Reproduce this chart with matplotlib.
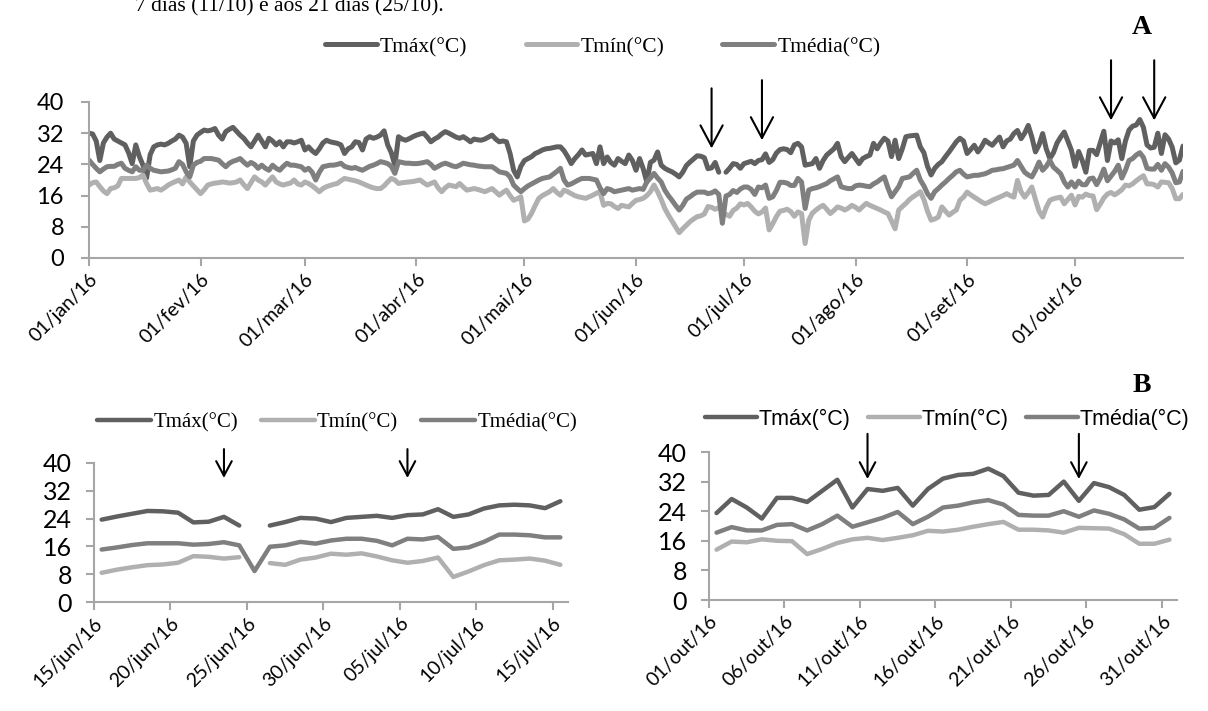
import numpy as np
import matplotlib.pyplot as plt

plt.rcParams['font.family'] = ['Lato', 'DejaVu Sans']

# ---- data ----
nan = np.nan

# daily values 01/jan - 14/jun/16
tmax_a = [32, 31.8, 30, 25, 29.5, 31, 32, 30.5, 30, 29.5, 29, 27, 24.2, 29, 26, 23.8, 20.5, 26.5, 28.5, 29, 29.2, 29, 29.4, 30, 30.5, 31.5, 31, 29.4, 23.4, 30, 31.5,  # jan
          32.2, 32.8, 32.6, 32.8, 33.2, 31.5, 30.5, 32.4, 33, 33.5, 32.5, 31.5, 30.7, 29.5, 28.5, 30, 31.5, 30, 28.5, 30.7, 30, 29, 29.8, 28.5, 29.8, 29.8, 29.5, 29.8, 30.2,  # fev
          27.7, 28.5, 27.5, 26.8, 28, 29.5, 30.2, 29.8, 29.6, 29.4, 29, 26.8, 28, 28.5, 29.8, 29.6, 27.7, 30.5, 31.1, 30.7, 31, 31.5, 32.6, 29, 27, 23.8, 31.1, 30.5, 30.2, 30.6, 31.1,  # mar
          31.5, 31.8, 32, 31, 29.8, 30.5, 31, 31.8, 32.4, 32, 31.5, 31, 30.7, 31.1, 30.5, 29.8, 30.5, 30.3, 30.2, 30.5, 31, 31.5, 30.5, 29.8, 30, 29.8, 26.8, 22.5, 20.8, 23.5,  # abr
          25, 25.5, 26, 26.8, 27.2, 27.7, 28, 28.1, 28.3, 28.5, 28.5, 27.5, 26, 24.2, 25.5, 26.5, 27.7, 26.4, 26.6, 26.8, 24.2, 28.5, 24.2, 25.9, 24.5, 23.8, 25.5, 24.8, 24.2, 26.4, 25,  # mai
          22.5, 25.5, 22.9, 19.5, 24.5, 25.1, 27.2, 23.8, 23, 22.5, 22.1, 21.5, 20.8, 22]  # jun 1-14
tmin_a = [18.7, 19.3, 19.5, 18.3, 17.2, 16.5, 17.8, 18, 18.5, 20.4, 20.4, 20.4, 20.4, 20.4, 20.6, 21.3, 19.1, 17.4, 17.6, 17.8, 17.4, 18, 18.7, 19.2, 19.6, 20, 19, 20.8, 19.5, 18.5, 17.5,
          16.5, 17.5, 18.7, 19, 19.2, 19.3, 19.5, 19.4, 19.2, 19.3, 19.5, 20, 18.8, 17.8, 19.3, 20.8, 20, 19.5, 18.7, 19.8, 20.8, 19.5, 19, 18.7, 19, 19.2, 20, 19, 18.7,
          19.5, 19.1, 18.5, 17.8, 17, 17.8, 18.3, 18.6, 18.9, 19.1, 19.8, 20.4, 20.2, 20, 19.8, 19.5, 19.1, 18.7, 18.3, 18, 17.8, 17.8, 18.5, 19.5, 20.4, 20, 19.1, 19.3, 19.4, 19.5, 19.6,
          19.8, 20, 19.3, 18.7, 19.1, 19.5, 18, 17, 18, 18.7, 18.5, 18.3, 19.1, 18.2, 17.4, 17.6, 17.8, 17.6, 17.3, 17, 17.4, 17.8, 17, 16.1, 16.8, 17.4, 16, 14.8, 15.2, 15.7,
          9.5, 10, 11.5, 13.5, 15.3, 16, 16.5, 17, 17.8, 16.8, 16.1, 17.4, 17, 16.5, 16, 15.7, 15.5, 15.3, 15.7, 16.1, 16.6, 17, 13.5, 14, 13.9, 13.2, 12.7, 13.5, 13.3, 13.1, 14,
          14.8, 15, 15.3, 16, 17, 18.7, 17, 15, 12.7, 11, 9.5, 8, 6.5, 7.5]
tmed_a = [25.1, 24, 23, 22.1, 22.8, 23.4, 23.5, 23.5, 24, 24.3, 23, 22.5, 22.1, 23.4, 22.5, 22.5, 23.8, 23, 22.5, 22.3, 22.1, 22.2, 22.3, 22.6, 23, 24.7, 24, 22.1, 20.8, 23.8, 24.5,
          24.8, 25.5, 25.5, 25.5, 25.3, 25.1, 24.2, 23.4, 24.3, 24.8, 25.1, 25.5, 24.6, 23.8, 24.5, 24, 23, 23.8, 23, 22.5, 23.8, 23, 22.5, 23.5, 24.3, 23.8, 23.8, 23.6, 23.4,
          22.5, 23, 22, 20, 22, 23.4, 23.6, 23.8, 23.8, 24, 24.3, 23.5, 23.2, 23, 23.2, 22.8, 22.5, 23, 23.5, 23.8, 24.2, 24.7, 24.5, 24.2, 23.5, 21.7, 24.7, 24.5, 24.3, 24.3, 24.2,
          24.2, 24.3, 24.5, 24.7, 24, 23, 23.5, 24, 24.3, 24, 23.6, 23.4, 23.8, 24.3, 24.1, 23.9, 23.8, 23.6, 23.5, 23.4, 23.4, 23.4, 22.8, 22.1, 21.9, 21.7, 20.8, 18.7, 17.8, 17,
          17.8, 18.5, 19, 19.5, 20, 20.4, 20.6, 20.8, 21.5, 22.2, 23, 20, 18.7, 19, 19.5, 20, 20.4, 20.4, 20.4, 20.2, 20, 18, 16.5, 17.8, 17.5, 17, 17.2, 17.4, 17.6, 17.8, 17.4,
          17.6, 17.8, 17.6, 19.5, 20.5, 21.7, 20.5, 19.5, 17.4, 16, 14.8, 13.5, 12.3, 13.5]

# 15/jun - 15/jul/16 (panel B left)
jj_labels = ['15/jun/16', '20/jun/16', '25/jun/16', '30/jun/16', '05/jul/16', '10/jul/16', '15/jul/16']
jj_tmax = [23.7, 24.6, 25.4, 26.2, 26.1, 25.7, 22.9, 23.1, 24.5, 22.0, nan, 22.0, 23.0, 24.2, 24.0, 23.0,
           24.2, 24.5, 24.8, 24.2, 25.0, 25.2, 26.7, 24.5, 25.2, 26.9, 27.8, 28.0, 27.8, 27.0, 29.0]
jj_tmin = [8.4, 9.3, 10.0, 10.6, 10.8, 11.3, 13.2, 13.0, 12.5, 12.9, nan, 11.2, 10.7, 12.2, 12.8, 13.9,
           13.6, 14.0, 13.1, 12.0, 11.3, 11.8, 12.8, 7.2, 8.8, 10.6, 12.0, 12.2, 12.5, 11.9, 10.7]
jj_tmed = [15.1, 15.7, 16.4, 16.9, 16.9, 16.9, 16.5, 16.7, 17.2, 16.3, 8.9, 15.9, 16.3, 17.3, 16.8, 17.7,
           18.2, 18.2, 17.6, 16.3, 18.2, 18.0, 18.7, 15.3, 15.7, 17.3, 19.4, 19.4, 19.2, 18.6, 18.6]

# 16/jul - 30/set/16
tmax_b = [29.4, 28.5, 23.8, 24, 24.2, 25.5, 23, 25, 26.4, 27.2, 28, 29.4, 26, 24.7, 25.8, 26.8,  # jul
          25.5, 24.2, 25.5, 26, 26.4, 29.4, 28, 29.5, 30.7, 30, 26, 30.2, 25.5, 28, 31.1, 31.3, 31.4, 31.5, 28.5, 27, 23.5, 21.3, 23, 24, 24.7, 26, 27.2, 28.5, 29.8, 30.7, 30,  # ago
          26.8, 27.8, 28.9, 27.2, 28.5, 30.2, 29.5, 28.9, 30, 31, 28.5, 30, 30.5, 31.9, 32.7, 30.6, 32, 34, 31, 27.2, 29, 31.9, 28, 25.5, 27, 29.5, 31, 32.3, 30, 27.6]  # set
tmin_b = [11.8, 11.4, 3.7, 9.7, 11.5, 12.3, 13, 13.5, 12.5, 11.4, 12.2, 13.1, 12.8, 12.3, 12.8, 13.5,
          13, 12.3, 13.2, 14, 13.5, 13.1, 12.7, 12.3, 11.8, 11.4, 9.5, 7.5, 12.3, 13.2, 14, 15, 15.7, 16.3, 17, 15, 12, 9.7, 10, 10.5, 13.1, 12, 11, 11.7, 12.3, 14.8, 15.6,
          16.9, 16.2, 15.6, 15, 14.4, 13.9, 14.3, 14.8, 15.2, 15.6, 16, 16.5, 16, 15.6, 19.9, 17, 15.6, 16.8, 18.2, 15, 12, 10.5, 13, 14.8, 15.2, 15.4, 15.6, 13.9, 15, 16.1]
tmed_b = [20.4, 19.5, 12.7, 17.4, 17.8, 18, 18.3, 18.7, 19.1, 19.8, 20.3, 20.8, 18.3, 18, 17.8, 17.8,
          18.5, 18.7, 18.6, 18.4, 18.3, 19, 19.5, 20.2, 20.8, 18, 15.7, 17, 18.3, 20.4, 20.6, 20.8, 21.7, 22.5, 20, 18.5, 16.5, 15.3, 17, 17.8, 18.7, 19.5, 20.4, 21.2, 22.1, 22.5, 21.5,
          20.8, 21, 21.2, 21.2, 21.4, 21.6, 22, 22.5, 22.6, 22.8, 22.9, 23.2, 23.5, 23.8, 25, 23.5, 22, 21.3, 20.8, 22.5, 24.6, 22.5, 23.5, 25, 23.3, 22.5, 21.6, 19.5, 18.2, 19.5]

# 01/out - 31/out/16 (panel B right)
out_labels = ['01/out/16', '06/out/16', '11/out/16', '16/out/16', '21/out/16', '26/out/16', '31/out/16']
out_tmax = [23.5, 27.3, 25.0, 22.0, 27.6, 27.6, 26.5, 29.5, 32.5, 25.0, 30.0, 29.5, 30.3, 25.5, 30.0, 32.8,
            33.8, 34.1, 35.5, 33.5, 29.0, 28.2, 28.4, 32.0, 26.8, 31.6, 30.5, 28.4, 24.4, 25.1, 28.7]
out_tmin = [13.6, 15.8, 15.6, 16.4, 16.0, 15.9, 12.4, 13.8, 15.4, 16.4, 16.8, 16.2, 16.8, 17.5, 18.7, 18.5,
            19.0, 19.8, 20.5, 21.1, 19.0, 19.0, 18.8, 18.2, 19.5, 19.4, 19.3, 17.8, 15.2, 15.2, 16.3]
out_tmed = [18.2, 19.7, 18.8, 18.8, 20.3, 20.5, 18.8, 20.5, 22.8, 19.8, 21.0, 22.2, 23.8, 20.5, 22.5, 25.0,
            25.5, 26.4, 27.0, 25.8, 23.0, 22.8, 22.8, 24.0, 22.5, 24.2, 23.3, 21.8, 19.3, 19.5, 22.2]

month_labels = ['01/jan/16', '01/fev/16', '01/mar/16', '01/abr/16', '01/mai/16',
                '01/jun/16', '01/jul/16', '01/ago/16', '01/set/16', '01/out/16']
month_start = [0, 31, 60, 91, 121, 152, 182, 213, 244, 274]

tmax = np.array(tmax_a + jj_tmax + tmax_b + out_tmax, dtype=float)
tmin = np.array(tmin_a + jj_tmin + tmin_b + out_tmin, dtype=float)
tmed = np.array(tmed_a + jj_tmed + tmed_b + out_tmed, dtype=float)

C_MAX = '#606060'
C_MIN = '#b0b0b0'
C_MED = '#7f7f7f'
AX_C = '#a6a6a6'

W, H = 1208, 711
fig = plt.figure(figsize=(W / 100, H / 100), dpi=100)


def add_ax(l, t, r, b):
    return fig.add_axes([l / W, 1 - b / H, (r - l) / W, (b - t) / H])


def style(ax, yfs, ypad):
    for s in ['top', 'right']:
        ax.spines[s].set_visible(False)
    for s in ['left', 'bottom']:
        ax.spines[s].set_color(AX_C)
        ax.spines[s].set_linewidth(1.5)
    ax.tick_params(direction='out', length=6, width=1.5, color=AX_C)
    ax.tick_params(axis='y', labelsize=yfs, pad=ypad)
    ax.tick_params(axis='x', labelsize=14, pad=3)
    ax.set_ylim(0, 40)
    ax.set_yticks(np.arange(0, 41, 8))


def draw(ax, x, a, b, c, lw):
    kw = dict(lw=lw, solid_capstyle='round', solid_joinstyle='round')
    ax.plot(x, a, color=C_MAX, label='Tmáx(°C)', **kw)
    ax.plot(x, b, color=C_MIN, label='Tmín(°C)', **kw)
    ax.plot(x, c, color=C_MED, label='Tmédia(°C)', **kw)


def arrow(ax, x, tip, tail, ms):
    ax.annotate('', xy=(x, tip), xytext=(x, tail), annotation_clip=False,
                arrowprops=dict(arrowstyle='->,head_length=0.75,head_width=0.4', lw=1.5,
                                color='k', mutation_scale=ms, shrinkA=0, shrinkB=0))


# ---- top panel (A) ----
ax = add_ax(89, 102, 1183, 258)
style(ax, 17, 12)
draw(ax, np.arange(len(tmax)), tmax, tmin, tmed, 3.6)
ax.set_xlim(0, len(tmax) - 1)
ax.set_xticks(month_start)
ax.set_xticklabels(month_labels, rotation=45, ha='right', rotation_mode='anchor')
ax.legend(loc='center left', bbox_to_anchor=(325 / W, 1 - 47 / H), bbox_transform=fig.transFigure,
          ncol=3, frameon=False, prop=dict(family='Liberation Serif', size=15.5),
          handlelength=2.4, handletextpad=0.15, columnspacing=2.7, borderpad=0, borderaxespad=0)
for x, tip, tail in [(173, 28.1, 43.5), (187, 30.2, 45.6), (284, 35.3, 50.7), (296, 35.3, 50.7)]:
    arrow(ax, x, tip, tail, 20)

# ---- bottom left ----
ax = add_ax(94, 463, 568, 602)
style(ax, 18, 10)
draw(ax, np.arange(len(jj_tmax)), jj_tmax, jj_tmin, jj_tmed, 3.2)
ax.set_xlim(-0.5, len(jj_tmax) - 0.5)
ax.set_xticks(np.arange(len(jj_labels)) * 5 - 0.5)
ax.set_xticklabels(jj_labels, rotation=45, ha='right', rotation_mode='anchor')
ax.legend(loc='center left', bbox_to_anchor=(97 / W, 1 - 423 / H), bbox_transform=fig.transFigure,
          ncol=3, frameon=False, prop=dict(family='Liberation Serif', size=15),
          handlelength=2.6, handletextpad=0.1, columnspacing=1.1, borderpad=0, borderaxespad=0)
for x in [8, 20]:
    arrow(ax, x, 35.7, 44, 14)

# ---- bottom right ----
ax = add_ax(709, 452, 1177, 600)
style(ax, 18, 10)
draw(ax, np.arange(len(out_tmax)), out_tmax, out_tmin, out_tmed, 3.2)
ax.set_xlim(-0.5, len(out_tmax) - 0.5)
ax.set_xticks(np.arange(len(out_labels)) * 5 - 0.5)
ax.set_xticklabels(out_labels, rotation=45, ha='right', rotation_mode='anchor')
ax.legend(loc='center left', bbox_to_anchor=(705 / W, 1 - 419 / H), bbox_transform=fig.transFigure,
          ncol=3, frameon=False, prop=dict(family='Liberation Sans', size=15.5),
          handlelength=2.4, handletextpad=0.1, columnspacing=0.8, borderpad=0, borderaxespad=0)
for x in [10, 24]:
    arrow(ax, x, 32.7, 44.9, 14)

# ---- texts ----
fig.text(135 / W, 1 - 11 / H, '7 dias (11/10) e aos 21 dias (25/10).',
         family='Liberation Serif', size=15.5, va='baseline')
fig.text(1142 / W, 1 - 27 / H, 'A', family='Liberation Serif', weight='bold', size=20,
         ha='center', va='center')
fig.text(1142 / W, 1 - 385 / H, 'B', family='Liberation Serif', weight='bold', size=20,
         ha='center', va='center')

fig.savefig('out.png', dpi=100)
